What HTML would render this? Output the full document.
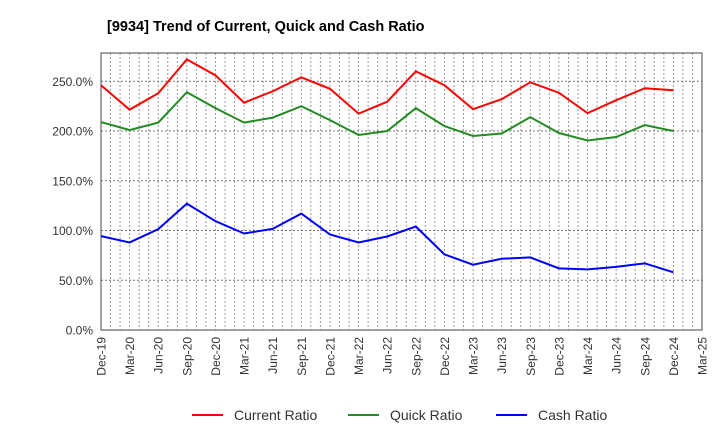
<!DOCTYPE html>
<html><head><meta charset="utf-8"><style>
body{margin:0;background:#fff;font-family:"Liberation Sans",sans-serif}
svg text{font-family:"Liberation Sans",sans-serif;fill:#333}
</style></head><body>
<svg id="chart" width="720" height="440">
<text x="107" y="31" font-size="14.5" font-weight="bold" style="fill:#000">[9934]  Trend of Current, Quick and Cash Ratio</text>
<g id="grid"></g><g id="axes"></g><g id="series"></g><g id="legend"></g>
</svg>
<script>
const categories=["Dec-19","Mar-20","Jun-20","Sep-20","Dec-20","Mar-21","Jun-21","Sep-21","Dec-21","Mar-22","Jun-22","Sep-22","Dec-22","Mar-23","Jun-23","Sep-23","Dec-23","Mar-24","Jun-24","Sep-24","Dec-24","Mar-25"];
const currentRatio=[246,221.5,238,272,256,228.5,240,254,242.5,217.5,229.5,260,246,222,232,249,238.5,218,231,243,241];
const quickRatio=[209,201,208.5,239,223,208.5,213.5,225,211,196,200,223,205,195,197.5,214,198,190.5,194,206,200];
const cashRatio=[94.4,88,101.4,127,109.4,97,101.7,117,96,88,94,104,76,65.6,71.6,73,62,61,63.5,67,58];
const yTicks=[0,50,100,150,200,250];
const yLabels=["0.0%","50.0%","100.0%","150.0%","200.0%","250.0%"];
const ns="http://www.w3.org/2000/svg";
const L=101,R=702,T=53,B=330;
const xS=i=>L+i*(R-L)/21;
const yS=v=>B-v*(B-81.3)/250;
function mk(tag,attrs,parent){const e=document.createElementNS(ns,tag);for(const k in attrs)e.setAttribute(k,attrs[k]);document.getElementById(parent).appendChild(e);return e;}
// monthly vertical grid
for(let m=1;m<63;m++){const x=L+m*(R-L)/63;
const g=mk("line",{x1:x,x2:x,y1:T,y2:B,stroke:"#999","stroke-dasharray":"2,2","stroke-width":1},"grid");

}
yTicks.forEach((v,i)=>{const y=yS(v);
if(v>0){const g=mk("line",{x1:L,x2:R,y1:y,y2:y,stroke:"#777","stroke-dasharray":"2,2","stroke-width":1},"grid");

}
const t=mk("text",{x:93,y:y+4.5,"text-anchor":"end","font-size":12},"axes");t.textContent=yLabels[i];

});
categories.forEach((c,i)=>{const x=xS(i);
const t=mk("text",{transform:`translate(${x+4.5},337) rotate(-90)`,"text-anchor":"end","font-size":12},"axes");t.textContent=c;

});
const fr=mk("rect",{x:L,y:T,width:R-L,height:B-T,fill:"none",stroke:"#444","stroke-width":1},"axes");


const series=[["current-ratio-line",currentRatio,"#f00"],["quick-ratio-line",quickRatio,"#228b22"],["cash-ratio-line",cashRatio,"#00f"]];
series.forEach(([n,d,c])=>{const p=mk("polyline",{points:d.map((v,i)=>xS(i)+","+yS(v)).join(" "),fill:"none",stroke:c,"stroke-width":2},"series");

});
const leg=[["Current Ratio","#f00",192],["Quick Ratio","#228b22",348],["Cash Ratio","#00f",496]];
leg.forEach(([n,c,x])=>{const l=mk("line",{x1:x,x2:x+31,y1:415,y2:415,stroke:c,"stroke-width":2},"legend");


const t=mk("text",{x:x+42,y:420,"font-size":14},"legend");t.textContent=n;

});
</script>
</body></html>
